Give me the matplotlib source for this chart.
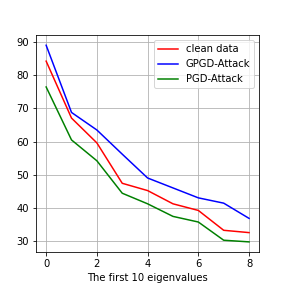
import numpy as np
import matplotlib
matplotlib.use("Agg")
import matplotlib.pyplot as plt

# accuracy per eigenvalue index
idx = np.arange(9)
clean = [84.3, 67.1, 59.6, 47.4, 45.2, 41.2, 39.2, 33.2, 32.5]
gpgd = [89.1, 68.8, 63.5, 56.2, 49.0, 46.0, 43.0, 41.4, 36.8]
pgd = [76.5, 60.5, 54.2, 44.4, 41.2, 37.4, 35.7, 30.2, 29.7]

fig = plt.figure(figsize=(4, 4), dpi=72)
plt.subplots_adjust(left=0.125, right=0.9, top=0.877, bottom=0.126)
plt.plot(idx, clean, 'r', label='clean data')
plt.plot(idx, gpgd, 'b', label='GPGD-Attack')
plt.plot(idx, pgd, 'g', label='PGD-Attack')
plt.xlabel('The first 10 eigenvalues')
plt.legend(loc='upper right')
plt.grid()
plt.savefig('out.png')
